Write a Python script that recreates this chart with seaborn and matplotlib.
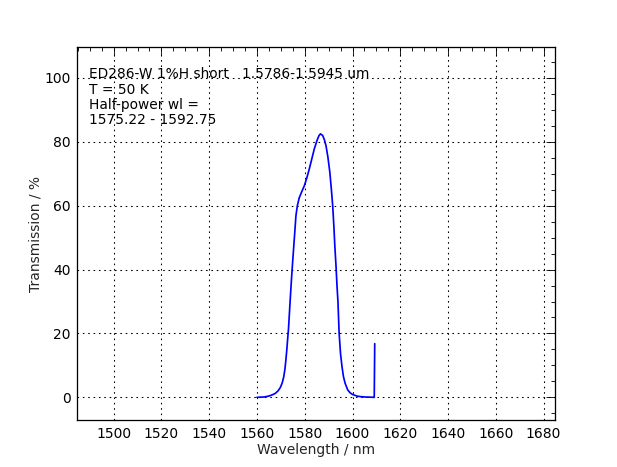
import matplotlib
matplotlib.use("Agg")
import matplotlib.pyplot as plt
from matplotlib.ticker import MultipleLocator
import seaborn as sns
import pandas as pd

# transmission curve
wavelength = [1560.0, 1563.0, 1565.0, 1566.5, 1567.7, 1568.8, 1569.8, 1570.6, 1571.2,
              1571.7, 1572.1, 1572.5, 1572.8, 1573.2, 1573.9, 1574.4, 1574.9, 1575.4,
              1575.9, 1576.3, 1576.9, 1577.7, 1578.8, 1579.8, 1580.9, 1581.9, 1583.0,
              1584.0, 1585.2, 1586.0, 1586.6, 1587.5, 1588.2, 1588.9, 1589.7, 1590.5,
              1591.1, 1591.7, 1592.2, 1592.6, 1593.1, 1593.5, 1593.9, 1594.4, 1595.0,
              1595.6, 1596.2, 1596.9, 1598.0, 1599.0, 1600.0, 1601.8, 1603.5, 1605.3,
              1609.1, 1609.3]
transmission = [0.0, 0.1, 0.4, 0.8, 1.25, 2.0, 3.1, 4.6, 6.4,
                8.8, 11.7, 15.0, 17.9, 21.5, 30.4, 36.5, 42.0, 47.3,
                52.5, 56.8, 60.0, 62.5, 64.5, 66.2, 68.8, 71.5, 74.8,
                77.8, 80.6, 82.0, 82.5, 82.0, 80.7, 78.8, 75.2, 70.5,
                65.5, 60.0, 53.5, 47.3, 41.0, 35.0, 30.0, 20.0, 13.5,
                9.6, 6.5, 4.4, 2.3, 1.4, 0.9, 0.4, 0.2, 0.1,
                0.0, 16.8]

info_lines = ["ED286-W 1%H short   1.5786-1.5945 um",
              "T = 50 K",
              "Half-power wl =",
              "1575.22 - 1592.75"]

x_range = (1484.7, 1684.9)
y_range = (-7.2, 109.8)

sns.set_style("white")
plt.rcParams["font.family"] = ["DejaVu Sans"]
fs = 13

df = pd.DataFrame({"wl": wavelength, "T": transmission})

fig, ax = plt.subplots(figsize=(8, 467 / 77.125), dpi=77.125)
fig.subplots_adjust(left=0.125, right=0.9, bottom=0.1, top=0.9)

sns.lineplot(data=df, x="wl", y="T", ax=ax, color="#0000ff", linewidth=1.6,
             sort=False, estimator=None)

ax.set_xlim(*x_range)
ax.set_ylim(*y_range)
ax.xaxis.set_major_locator(MultipleLocator(20))
ax.xaxis.set_minor_locator(MultipleLocator(5))
ax.yaxis.set_major_locator(MultipleLocator(20))
ax.yaxis.set_minor_locator(MultipleLocator(5))
ax.tick_params(which="both", direction="in", top=True, right=True, colors="black",
               labelsize=fs, pad=6)
ax.tick_params(which="major", length=8, width=0.8)
ax.tick_params(which="minor", length=4, width=0.8)
ax.grid(True, which="major", linestyle=(0, (1.5, 3.5)), color="black", linewidth=1)
for sp in ax.spines.values():
    sp.set_color("black")
    sp.set_linewidth(1.2)

ax.set_xlabel("Wavelength / nm", fontsize=fs, labelpad=2)
ax.set_ylabel("Transmission / %", fontsize=fs, labelpad=2)

ax.text(0.025, 0.945, "\n".join(info_lines), transform=ax.transAxes,
        va="top", ha="left", fontsize=12.9, color="black", linespacing=1.12)

fig.savefig("out.png", dpi=77.125, facecolor="white")
